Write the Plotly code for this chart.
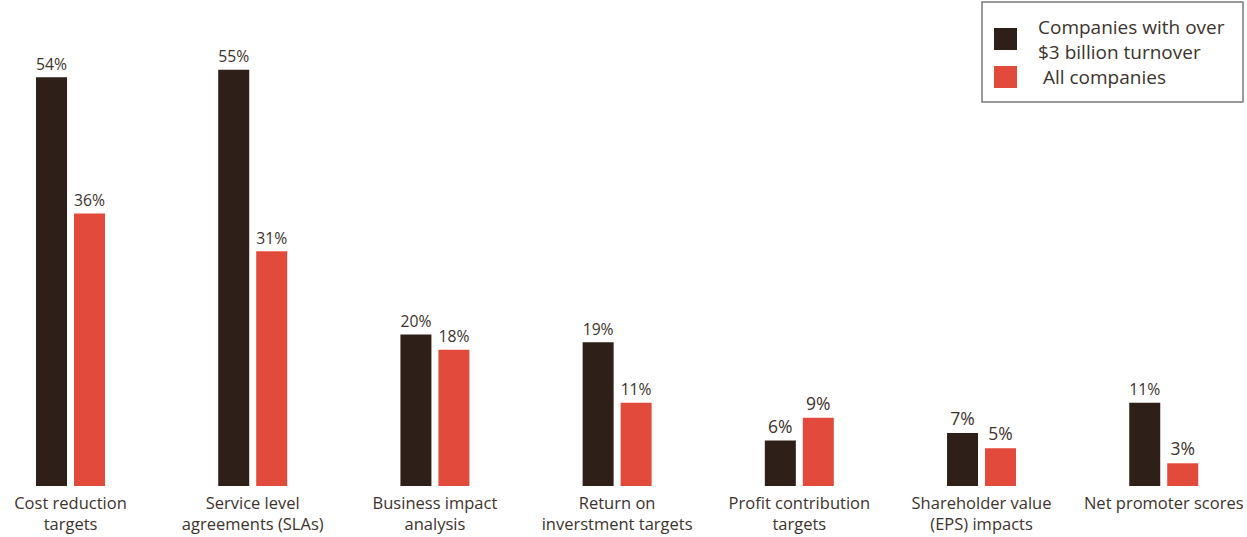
import plotly.graph_objects as go

categories = [
    "Cost reduction<br>targets",
    "Service level<br>agreements (SLAs)",
    "Business impact<br>analysis",
    "Return on<br>inverstment targets",
    "Profit contribution<br>targets",
    "Shareholder value<br>(EPS) impacts",
    "Net promoter scores",
]
large_companies = [54, 55, 20, 19, 6, 7, 11]
all_companies = [36, 31, 18, 11, 9, 5, 3]
series_names = ["Companies with over<br>$3 billion turnover", " All companies"]

DARK = "#2e2018"
RED = "#e24a3b"
TEXT = "#3d332d"
FONT = "Open Sans"

W, H = 1247, 537
PLOT_BOTTOM = 486  # pixel row of the bar baseline

fig = go.Figure()
for name, vals, col in [(series_names[0], large_companies, DARK),
                        (series_names[1], all_companies, RED)]:
    fig.add_trace(go.Bar(
        x=categories, y=vals, name=name, marker_color=col,
        marker_line_width=0,
        text=[f"{v}%" for v in vals], textposition="outside",
        textfont=dict(family=FONT, size=17.5, color=TEXT),
        cliponaxis=False,
    ))

# Legend drawn as a boxed key in the top-right corner
def px(x):
    return x / W

def py(y):
    return 1 - y / PLOT_BOTTOM

shapes = [
    dict(type="rect", xref="paper", yref="paper",
         x0=px(982), x1=px(1243), y0=py(102), y1=py(2),
         line=dict(color="#7a7a7a", width=1.5), fillcolor="white"),
    dict(type="rect", xref="paper", yref="paper",
         x0=px(994), x1=px(1017), y0=py(50), y1=py(28),
         line=dict(width=0), fillcolor=DARK),
    dict(type="rect", xref="paper", yref="paper",
         x0=px(994), x1=px(1017), y0=py(88), y1=py(66),
         line=dict(width=0), fillcolor=RED),
]
annotations = [
    dict(xref="paper", yref="paper", x=px(1036), y=py(39), xanchor="left",
         yanchor="middle", text=series_names[0], showarrow=False, align="left",
         font=dict(family=FONT, size=19, color=TEXT)),
    dict(xref="paper", yref="paper", x=px(1036), y=py(77), xanchor="left",
         yanchor="middle", text=series_names[1], showarrow=False, align="left",
         font=dict(family=FONT, size=19, color=TEXT)),
]

fig.update_layout(
    width=W, height=H,
    margin=dict(l=0, r=0, t=0, b=H - PLOT_BOTTOM),
    plot_bgcolor="white", paper_bgcolor="white",
    barmode="group", bargap=0.583, bargroupgap=0.184,
    showlegend=False,
    shapes=shapes, annotations=annotations,
    xaxis=dict(range=[-0.387, 6.457], showgrid=False, showline=False,
               ticks="", automargin=False, ticklabelstandoff=5,
               tickfont=dict(family=FONT, size=16.5, color=TEXT)),
    yaxis=dict(range=[0, PLOT_BOTTOM / 7.57], visible=False, showgrid=False,
               zeroline=False),
)

fig.write_html("out.html", config={"displayModeBar": False})
